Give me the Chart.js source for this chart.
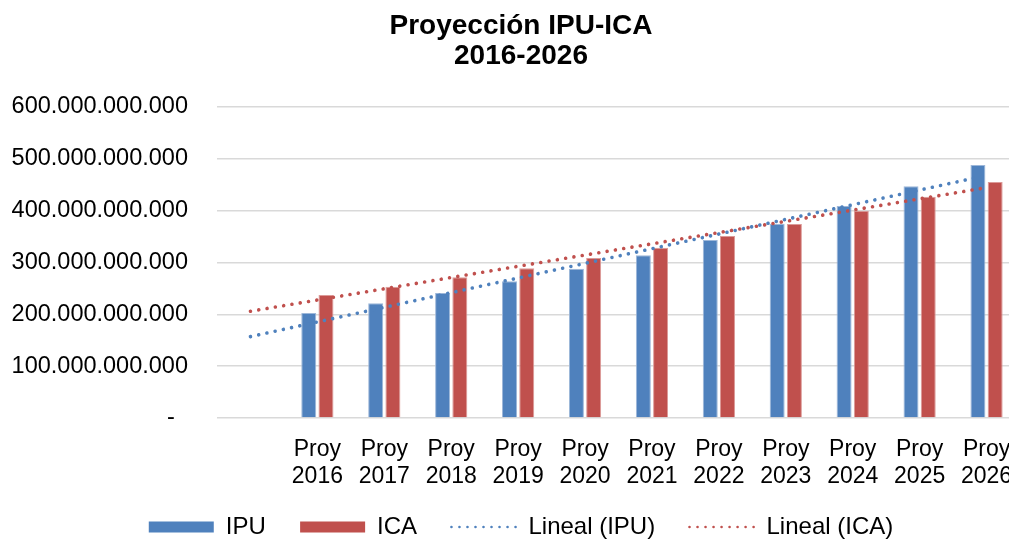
<!DOCTYPE html>
<html>
<head>
<meta charset="utf-8">
<script src="https://cdn.jsdelivr.net/npm/chart.js@4/dist/chart.umd.min.js"></script>
<style>
  html, body { margin: 0; padding: 0; background: #fff; overflow: hidden; }
  #wrap { position: relative; width: 1040px; height: 549px; }
</style>
</head>
<body>
<div id="wrap"><canvas id="chart"></canvas></div>
<script>
// values (pesos)
const categories = ['', ['Proy', '2016'], ['Proy', '2017'], ['Proy', '2018'], ['Proy', '2019'], ['Proy', '2020'],
                    ['Proy', '2021'], ['Proy', '2022'], ['Proy', '2023'], ['Proy', '2024'], ['Proy', '2025'], ['Proy', '2026']];
const ipu = [null, 202.6e9, 221.3e9, 241.2e9, 263.7e9, 288.1e9, 313.9e9, 343.4e9, 374.9e9, 409.0e9, 447.0e9, 488.0e9];
const ica = [null, 237.3e9, 253.3e9, 271.5e9, 288.8e9, 308.7e9, 328.6e9, 351.1e9, 374.3e9, 400.0e9, 427.0e9, 455.3e9];
// trendline end points (first and last category)
const trendIpu = [157e9, null, null, null, null, null, null, null, null, null, null, 468e9];
const trendIca = [206e9, null, null, null, null, null, null, null, null, null, null, 444.5e9];
const yTicks = [0, 100e9, 200e9, 300e9, 400e9, 500e9, 600e9];
const legendNames = ['IPU  ', 'ICA  ', 'Lineal (IPU)  ', 'Lineal (ICA)'];

const BLUE = '#4f81bd';
const RED = '#c0504d';
const FONT = "'Liberation Sans', Arial, sans-serif";
const DOTS = [0.01, 8.4];

function fmt(v) {
    if (v === 0) return '-  ';
    return String(Math.round(v)).replace(/\B(?=(\d{3})+(?!\d))/g, '.');
}

const ctx = document.getElementById('chart');
new Chart(ctx, {
    type: 'bar',
    data: {
        labels: categories,
        datasets: [
            { label: 'IPU', data: ipu, backgroundColor: BLUE, borderColor: '#9db7d9', borderWidth: 1, order: 1,
              pointStyle: 'rect', barPercentage: 0.87, categoryPercentage: 0.515 },
            { label: 'ICA', data: ica, backgroundColor: RED, borderColor: '#dc9a98', borderWidth: 1, order: 1,
              pointStyle: 'rect', barPercentage: 0.87, categoryPercentage: 0.515 },
            { type: 'line', label: 'Lineal (IPU)', data: trendIpu, borderColor: BLUE, backgroundColor: BLUE,
              borderWidth: 3.6, borderDash: DOTS, borderCapStyle: 'round', pointRadius: 0, spanGaps: true, order: 0 },
            { type: 'line', label: 'Lineal (ICA)', data: trendIca, borderColor: RED, backgroundColor: RED,
              borderWidth: 3.6, borderDash: DOTS, borderCapStyle: 'round', pointRadius: 0, spanGaps: true, order: 0 }
        ]
    },
    options: {
        responsive: true,
        maintainAspectRatio: false,
        animation: false,
        layout: { padding: { left: 2, right: 0, top: 0, bottom: 0 } },
        plugins: {
            tooltip: { enabled: false },
            title: {
                display: true,
                text: ['Proyección IPU-ICA', '2016-2026'],
                color: '#000',
                font: { family: FONT, size: 28, weight: 'bold', lineHeight: '30px' },
                padding: { top: 11, bottom: 36 }
            },
            legend: {
                position: 'bottom',
                labels: {
                    color: '#000',
                    font: { family: FONT, size: 24 },
                    usePointStyle: true,
                    pointStyleWidth: 65,
                    boxHeight: 11,
                    padding: 21,
                    generateLabels(chart) {
                        const items = Chart.defaults.plugins.legend.labels.generateLabels(chart);
                        items.forEach(it => {
                            const ds = chart.data.datasets[it.datasetIndex];
                            it.text = legendNames[it.datasetIndex];
                            if (ds.type === 'line') {
                                it.pointStyle = 'line';
                                it.lineDash = [0.01, 8];
                                it.lineCap = 'round';
                                it.lineWidth = 2.6;
                                it.strokeStyle = ds.borderColor;
                            } else {
                                it.pointStyle = 'rect';
                                it.lineWidth = 0;
                                it.fillStyle = ds.backgroundColor;
                            }
                        });
                        items.sort((a, b) => a.datasetIndex - b.datasetIndex);
                        return items;
                    }
                }
            }
        },
        scales: {
            x: {
                grid: { display: false },
                border: { display: false },
                ticks: {
                    color: '#000',
                    font: { family: FONT, size: 23, lineHeight: '27px' },
                    padding: 10,
                    maxRotation: 0,
                    autoSkip: false
                },
                afterFit(scale) { scale.height = 76; }
            },
            y: {
                min: 0,
                max: 600e9,
                grid: { color: '#d9d9d9', lineWidth: 1.5, drawTicks: false },
                border: { display: false },
                ticks: {
                    color: '#000',
                    font: { family: FONT, size: 23.5 },
                    padding: 29,
                    stepSize: 100e9,
                    callback: v => fmt(v)
                },
                afterBuildTicks(scale) { scale.ticks = yTicks.map(v => ({ value: v })); },
                afterFit(scale) { scale.width = 215; }
            },
            // empty strip keeping the plot's right edge where the original had it
            yRight: {
                position: 'right',
                grid: { display: false },
                border: { display: false },
                ticks: { display: false },
                afterFit(scale) { scale.width = 20; }
            }
        }
    }
});
</script>
</body>
</html>
